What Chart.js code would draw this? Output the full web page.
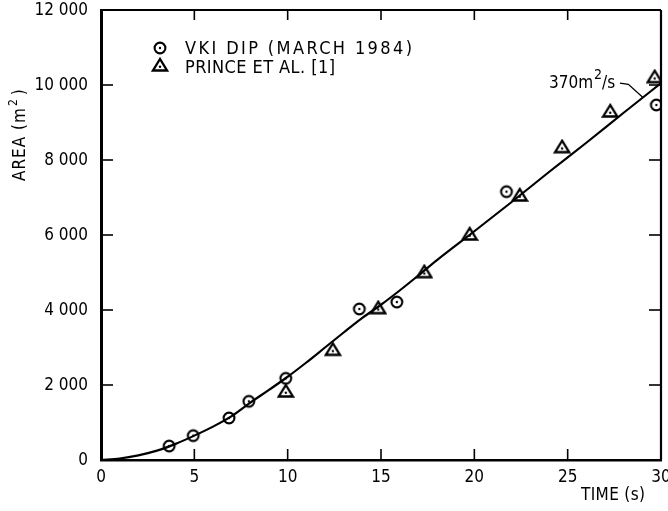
<!DOCTYPE html>
<html>
<head>
<meta charset="utf-8">
<script src="https://cdn.jsdelivr.net/npm/chart.js@4/dist/chart.umd.min.js"></script>
<style>
html,body{margin:0;padding:0;background:#fff;}
#wrap{width:668px;height:511px;position:relative;}
</style>
</head>
<body>
<div id="wrap"><canvas id="c" width="668" height="511"></canvas></div>
<script>
// ---- data ----
const curveTime = [0, 1, 2, 3, 4, 5, 6, 7, 8, 9, 10, 11, 12, 13, 14, 15, 16, 17, 18, 20, 22, 24, 26, 28, 30];
const curveArea = [0, 40, 125, 250, 430, 650, 890, 1170, 1530, 1870, 2220, 2600, 3000, 3400, 3790, 4140, 4520, 4920, 5330, 6100, 6880, 7680, 8460, 9260, 10050];

const vkiTime = [3.65, 4.94, 6.86, 7.92, 9.9, 13.84, 15.85, 21.72, 29.75];
const vkiArea = [373, 649, 1120, 1564, 2178, 4027, 4213, 7155, 9467];

const princeTime = [9.9, 12.42, 14.85, 17.32, 19.75, 22.43, 24.7, 27.28, 29.66];
const princeArea = [1840, 2951, 4062, 5022, 6027, 7067, 8355, 9307, 10222];

const xTickLabels = ['0', '5', '10', '15', '20', '25', '30'];
const yTickLabels = ['0', '2 000', '4 000', '6 000', '8 000', '10 000', '12 000'];

const seriesLabels = ['VKI DIP (MARCH 1984)', 'PRINCE ET AL. [1]'];
const xTitle = 'TIME (s)';
const yTitle = 'AREA (m';
const slopeLabel = '370m';

// ---- styling helpers ----
const FONT = "'Liberation Sans Narrow','DejaVu Sans Condensed','Roboto Condensed',Roboto,sans-serif";
const INK = '#000';

function makeCircle() {
  const c = document.createElement('canvas'); c.width = 16; c.height = 16;
  const g = c.getContext('2d');
  g.strokeStyle = INK; g.lineWidth = 2.1;
  g.beginPath(); g.arc(8, 8, 5.4, 0, Math.PI * 2); g.stroke();
  g.fillStyle = INK; g.beginPath(); g.arc(8, 8, 1.2, 0, Math.PI * 2); g.fill();
  return c;
}
function makeTriangle() {
  const c = document.createElement('canvas'); c.width = 18; c.height = 16;
  const g = c.getContext('2d');
  g.strokeStyle = INK; g.lineWidth = 2.3; g.lineJoin = 'miter';
  g.beginPath(); g.moveTo(9, 2); g.lineTo(2, 13.5); g.lineTo(16, 13.5); g.closePath(); g.stroke();
  g.fillStyle = INK; g.beginPath(); g.arc(9, 9.8, 1.2, 0, Math.PI * 2); g.fill();
  return c;
}
const circleImg = makeCircle();
const triImg = makeTriangle();

function pts(xs, ys) { return xs.map((x, i) => ({ x: x, y: ys[i] })); }

function spacedText(ctx, text, x, y, width) {
  ctx.letterSpacing = '0px';
  const w0 = ctx.measureText(text).width;
  const n = text.length;
  let ls = n > 1 ? (width - w0) / (n - 1) : 0;
  if (ls < 0) ls = 0;
  ctx.letterSpacing = ls + 'px';
  ctx.fillText(text, x, y);
  ctx.letterSpacing = '0px';
}

const decor = {
  id: 'decor',
  afterDraw(chart) {
    const ctx = chart.ctx;
    const a = chart.chartArea;
    const xs = chart.scales.x, ys = chart.scales.y;
    ctx.save();
    ctx.strokeStyle = INK; ctx.fillStyle = INK;
    // top and right frame
    ctx.lineWidth = 1.8;
    ctx.beginPath(); ctx.moveTo(a.left, a.top); ctx.lineTo(a.right, a.top); ctx.stroke();
    ctx.lineWidth = 2.2;
    ctx.beginPath(); ctx.moveTo(a.right, a.top); ctx.lineTo(a.right, a.bottom); ctx.stroke();
    // inward ticks
    ctx.lineWidth = 1.6;
    xs.ticks.forEach(t => {
      const px = xs.getPixelForValue(t.value);
      if (px <= a.left + 1 || px >= a.right - 1) return;
      ctx.beginPath(); ctx.moveTo(px, a.bottom); ctx.lineTo(px, a.bottom - 11); ctx.stroke();
      ctx.beginPath(); ctx.moveTo(px, a.top); ctx.lineTo(px, a.top + 10); ctx.stroke();
    });
    ys.ticks.forEach(t => {
      const py = ys.getPixelForValue(t.value);
      if (py >= a.bottom - 1 || py <= a.top + 1) return;
      ctx.beginPath(); ctx.moveTo(a.left, py); ctx.lineTo(a.left + 12, py); ctx.stroke();
      ctx.beginPath(); ctx.moveTo(a.right, py); ctx.lineTo(a.right - 12, py); ctx.stroke();
    });

    // tick labels
    ctx.font = '17px ' + FONT;
    ctx.textAlign = 'center'; ctx.textBaseline = 'top';
    xs.ticks.forEach((t, i) => {
      ctx.fillText(xTickLabels[i], xs.getPixelForValue(t.value), a.bottom + 9);
    });
    ctx.textAlign = 'right'; ctx.textBaseline = 'middle';
    ys.ticks.forEach((t, i) => {
      ctx.fillText(yTickLabels[i], a.left - 13, ys.getPixelForValue(t.value) + 1);
    });

    // legend
    ctx.font = '18px ' + FONT;
    ctx.textBaseline = 'middle'; ctx.textAlign = 'left';
    ctx.drawImage(circleImg, 160 - 8, 48 - 8);
    spacedText(ctx, seriesLabels[0], 185, 49, 227);
    ctx.drawImage(triImg, 160 - 9, 66 - 9);
    spacedText(ctx, seriesLabels[1], 185, 68, 150);

    // slope annotation
    const lx = xs.getPixelForValue(24.0), ly = ys.getPixelForValue(9920);
    ctx.font = '17px ' + FONT;
    ctx.textBaseline = 'alphabetic';
    ctx.fillText(slopeLabel, lx, ly);
    let w = ctx.measureText(slopeLabel).width;
    ctx.font = '14px ' + FONT;
    ctx.fillText('2', lx + w + 1, ly - 9);
    const w2 = ctx.measureText('2').width;
    ctx.font = '17px ' + FONT;
    ctx.fillText('/s', lx + w + w2 + 1, ly);
    ctx.lineWidth = 1.3;
    ctx.beginPath();
    ctx.moveTo(xs.getPixelForValue(27.8), ys.getPixelForValue(10050));
    ctx.lineTo(xs.getPixelForValue(28.25), ys.getPixelForValue(10020));
    ctx.lineTo(xs.getPixelForValue(29.05), ys.getPixelForValue(9660));
    ctx.stroke();

    // x title
    ctx.font = '17px ' + FONT;
    ctx.textBaseline = 'middle'; ctx.textAlign = 'left';
    spacedText(ctx, xTitle, 581, 496, 64);

    // y title (rotated)
    ctx.translate(21, 181);
    ctx.rotate(-Math.PI / 2);
    ctx.font = '17px ' + FONT;
    ctx.textBaseline = 'middle';
    ctx.letterSpacing = '1px';
    ctx.fillText(yTitle, 0, 0);
    const tw = ctx.measureText(yTitle).width;
    ctx.font = '12px ' + FONT;
    ctx.fillText('2', tw + 1, -7);
    const tw2 = ctx.measureText('2').width;
    ctx.font = '17px ' + FONT;
    ctx.fillText(')', tw + tw2 + 4, 0);
    ctx.restore();
  }
};

new Chart(document.getElementById('c'), {
  type: 'scatter',
  data: {
    datasets: [
      {
        label: 'fit',
        data: pts(curveTime, curveArea),
        showLine: true,
        borderColor: INK,
        borderWidth: 2.2,
        pointRadius: 0,
        cubicInterpolationMode: 'monotone',
        order: 3
      },
      {
        label: seriesLabels[0],
        data: pts(vkiTime, vkiArea),
        pointStyle: circleImg,
        pointRadius: 6,
        order: 1
      },
      {
        label: seriesLabels[1],
        data: pts(princeTime, princeArea),
        pointStyle: triImg,
        pointRadius: 6,
        order: 2
      }
    ]
  },
  options: {
    responsive: false,
    animation: false,
    devicePixelRatio: 1,
    layout: { padding: { left: 0, right: 1, top: 10, bottom: 0 } },
    plugins: { legend: { display: false }, tooltip: { enabled: false } },
    scales: {
      x: {
        type: 'linear', min: 0, max: 30,
        afterFit(s) { s.height = 51; },
        grid: { display: false, drawTicks: false },
        border: { display: true, color: INK, width: 2.6 },
        ticks: { stepSize: 5, display: false }
      },
      y: {
        type: 'linear', min: 0, max: 12000,
        afterFit(s) { s.width = 101; },
        grid: { display: false, drawTicks: false },
        border: { display: true, color: INK, width: 3 },
        ticks: { stepSize: 2000, display: false }
      }
    }
  },
  plugins: [decor]
});
</script>
</body>
</html>
